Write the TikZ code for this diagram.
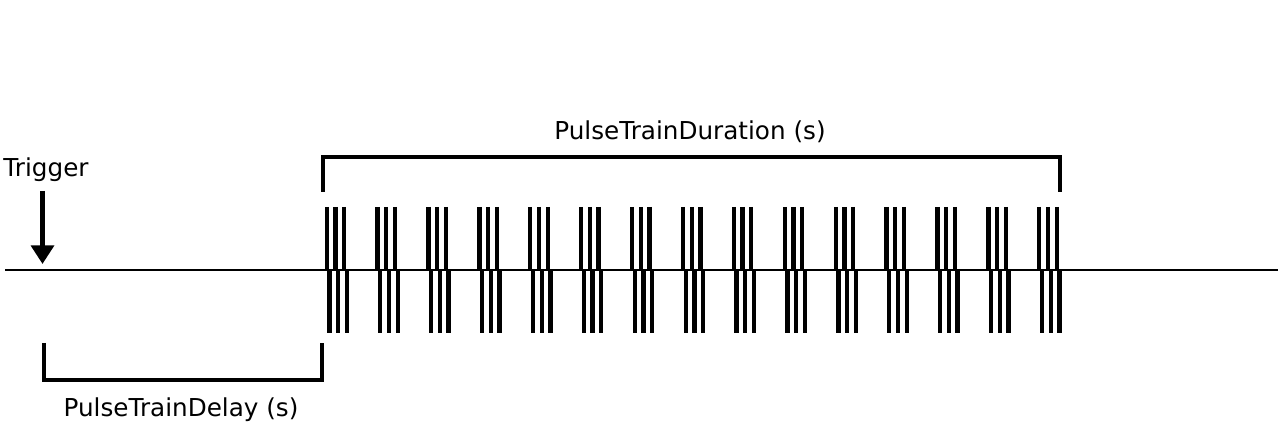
\documentclass[tikz,border=0pt]{standalone}
\usepackage{fontspec}
\setmainfont{DejaVu Sans}
\usetikzlibrary{arrows.meta}

\tikzset{
  lbl/.style={font=\fontsize{18.5}{22}\selectfont, inner sep=0pt},
  pulsebar/.style={line width=3.2pt},
  bracket/.style={line width=2.8pt},
}

\begin{document}
\begin{tikzpicture}[x=0.75pt,y=-0.75pt]
    \useasboundingbox (0,0) rectangle (1278,427);
    % base line
    \coordinate (lineL) at (5,270);
    \coordinate (lineR) at (1278,270);
    \draw[line width=2pt] (lineL) -- (lineR);
    % trigger
    \node[lbl] (trig) at (46,170) {Trigger};
    \coordinate (trigtip) at (42.5,264);
    \draw[line width=3.4pt,-{Triangle[width=17pt,length=14pt]}] (42.5,191) -- (trigtip);
    % pulse train
    \foreach \i in {0,...,14} {
        \foreach \k in {0,1,2} {
            \draw[pulsebar] ({326.7+50.9*\i+8.7*\k},207) -- ({326.7+50.9*\i+8.7*\k},270);
            \draw[pulsebar] ({329.4+50.9*\i+8.7*\k},270) -- ({329.4+50.9*\i+8.7*\k},333);
        }
    }
    % duration bracket
    \coordinate (durL) at (323,192);
    \coordinate (durR) at (1060,192);
    \draw[bracket] (durL) -- (323,157) -- (1060,157) -- (durR);
    \node[lbl] (dur) at (690,132) {PulseTrainDuration (s)};
    % delay bracket
    \coordinate (delL) at (44,343);
    \coordinate (delR) at (322,343);
    \draw[bracket] (delL) -- (44,380) -- (322,380) -- (delR);
    \node[lbl] (del) at (181,410) {PulseTrainDelay (s)};
\end{tikzpicture}
\end{document}
